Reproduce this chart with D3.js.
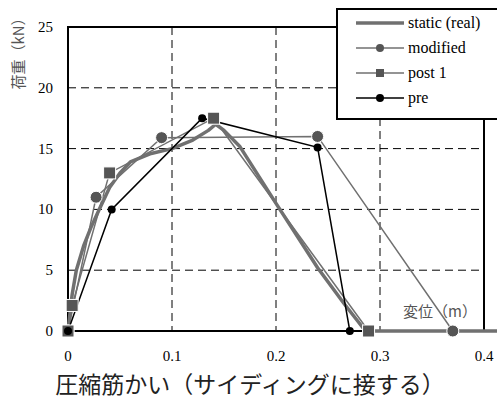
<!DOCTYPE html>
<html>
<head>
<meta charset="utf-8">
<script src="https://cdn.jsdelivr.net/npm/d3@7"></script>
<style>
  body { margin: 0; background: #fff; }
  svg { display: block; }
</style>
</head>
<body>
<script>
const width = 497;
const height = 400;
const margin = { top: 27, right: 13, bottom: 69, left: 68 };

// data (displacement m, load kN)
const staticReal = [
  [0, 0], [0.004, 3], [0.008, 5], [0.015, 7], [0.022, 8.5], [0.03, 10],
  [0.04, 11.8], [0.05, 13], [0.06, 13.9], [0.08, 14.6], [0.1, 15],
  [0.12, 15.7], [0.135, 16.5], [0.142, 17], [0.15, 16.5], [0.165, 15.2],
  [0.2, 10.5], [0.24, 5.2], [0.265, 2.3], [0.286, 0], [0.413, 0]
];
const modified = [[0, 0], [0.027, 11], [0.09, 15.9], [0.24, 16], [0.37, 0]];
const post1 = [[0, 0], [0.004, 2.1], [0.04, 13], [0.14, 17.5], [0.289, 0]];
const pre = [[0, 0], [0.042, 10], [0.129, 17.5], [0.24, 15.1], [0.271, 0]];

const xTicks = [0, 0.1, 0.2, 0.3, 0.4];
const yTicks = [0, 5, 10, 15, 20, 25];
const legendItems = ['static (real)', 'modified', 'post 1', 'pre'];

const grayLine = '#707070';
const grayMark = '#555555';
const serif = "'Times New Roman', 'Liberation Serif', 'DejaVu Serif', serif";
const cjk = "'Noto Sans CJK JP', sans-serif";

const svg = d3.select('body').append('svg')
  .attr('width', width)
  .attr('height', height);

const x = d3.scaleLinear()
  .domain([0, 0.4])
  .range([margin.left, width - margin.right]);

const y = d3.scaleLinear()
  .domain([0, 25])
  .range([height - margin.bottom, margin.top]);

// grid
const grid = svg.append('g')
  .attr('stroke', '#000')
  .attr('stroke-width', 1)
  .attr('stroke-dasharray', '8,5');

grid.selectAll('line.v')
  .data(xTicks.filter(d => d > 0 && d < 0.4))
  .join('line')
  .attr('x1', d => x(d))
  .attr('x2', d => x(d))
  .attr('y1', y(25))
  .attr('y2', y(0));

grid.selectAll('line.h')
  .data(yTicks.filter(d => d > 0 && d < 25))
  .join('line')
  .attr('x1', x(0))
  .attr('x2', x(0.4))
  .attr('y1', d => y(d))
  .attr('y2', d => y(d));

// frame
svg.append('rect')
  .attr('x', x(0))
  .attr('y', y(25))
  .attr('width', x(0.4) - x(0))
  .attr('height', y(0) - y(25))
  .attr('fill', 'none')
  .attr('stroke', '#000')
  .attr('stroke-width', 2);

// tick labels
svg.append('g')
  .selectAll('text')
  .data(yTicks)
  .join('text')
  .style('font-family', serif)
  .style('font-size', '15px')
  .attr('text-anchor', 'end')
  .attr('x', margin.left - 15)
  .attr('y', d => y(d) + 5)
  .text(d => d);

svg.append('g')
  .selectAll('text')
  .data(xTicks)
  .join('text')
  .style('font-family', serif)
  .style('font-size', '15px')
  .attr('text-anchor', 'middle')
  .attr('x', d => x(d))
  .attr('y', y(0) + 30)
  .text(d => d);

const line = d3.line()
  .x(d => x(d[0]))
  .y(d => y(d[1]));

// series lines
svg.append('path')
  .datum(modified)
  .attr('d', line)
  .attr('fill', 'none')
  .attr('stroke', grayLine)
  .attr('stroke-width', 1.5);

svg.append('path')
  .datum(post1)
  .attr('d', line)
  .attr('fill', 'none')
  .attr('stroke', grayLine)
  .attr('stroke-width', 1.5);

svg.append('path')
  .datum(staticReal)
  .attr('d', line)
  .attr('fill', 'none')
  .attr('stroke', grayLine)
  .attr('stroke-width', 3.5)
  .attr('stroke-linejoin', 'round');

svg.append('path')
  .datum(pre)
  .attr('d', line)
  .attr('fill', 'none')
  .attr('stroke', '#000')
  .attr('stroke-width', 1.5);

// markers
svg.append('g')
  .selectAll('circle')
  .data(modified)
  .join('circle')
  .attr('cx', d => x(d[0]))
  .attr('cy', d => y(d[1]))
  .attr('r', 6)
  .attr('fill', grayMark)
  .attr('stroke', '#fff')
  .attr('stroke-width', 1);

svg.append('g')
  .selectAll('rect')
  .data(post1)
  .join('rect')
  .attr('x', d => x(d[0]) - 6)
  .attr('y', d => y(d[1]) - 6)
  .attr('width', 12)
  .attr('height', 12)
  .attr('fill', grayMark)
  .attr('stroke', '#fff')
  .attr('stroke-width', 1);

svg.append('g')
  .selectAll('circle')
  .data(pre)
  .join('circle')
  .attr('cx', d => x(d[0]))
  .attr('cy', d => y(d[1]))
  .attr('r', 4)
  .attr('fill', '#000');

// axis titles
svg.append('text')
  .style('font-family', cjk)
  .style('font-size', '15px')
  .attr('transform', 'translate(24,50) rotate(-90)')
  .attr('fill', '#555')
  .attr('text-anchor', 'middle')
  .text('荷重（kN）');

svg.append('text')
  .style('font-family', cjk)
  .style('font-size', '15px')
  .attr('x', 440)
  .attr('y', 317)
  .attr('fill', '#555')
  .attr('text-anchor', 'middle')
  .text('変位（m）');

svg.append('text')
  .style('font-family', cjk)
  .style('font-size', '23px')
  .attr('x', 250)
  .attr('y', 393)
  .attr('fill', '#222')
  .attr('text-anchor', 'middle')
  .text('圧縮筋かい（サイディングに接する）');

// legend
const legend = svg.append('g');

legend.append('rect')
  .attr('x', 337)
  .attr('y', 9)
  .attr('width', 170)
  .attr('height', 110)
  .attr('fill', '#fff')
  .attr('stroke', '#000')
  .attr('stroke-width', 2);

const rowY = d3.scalePoint()
  .domain(legendItems)
  .range([23, 98]);

const rows = legend.selectAll('g.row')
  .data(legendItems)
  .join('g')
  .attr('transform', d => `translate(0,${rowY(d)})`);

rows.append('line')
  .attr('x1', 356)
  .attr('x2', 404)
  .attr('stroke', (d, i) => i === 3 ? '#000' : grayLine)
  .attr('stroke-width', (d, i) => i === 0 ? 3.5 : 1.5);

rows.filter((d, i) => i === 1)
  .append('circle')
  .attr('cx', 380)
  .attr('r', 4)
  .attr('fill', grayMark);

rows.filter((d, i) => i === 2)
  .append('rect')
  .attr('x', 376)
  .attr('y', -4)
  .attr('width', 8)
  .attr('height', 8)
  .attr('fill', grayMark);

rows.filter((d, i) => i === 3)
  .append('circle')
  .attr('cx', 380)
  .attr('r', 4)
  .attr('fill', '#000');

rows.append('text')
  .style('font-family', serif)
  .style('font-size', '16px')
  .attr('x', 408)
  .attr('y', 5)
  .text(d => d);
</script>
</body>
</html>
